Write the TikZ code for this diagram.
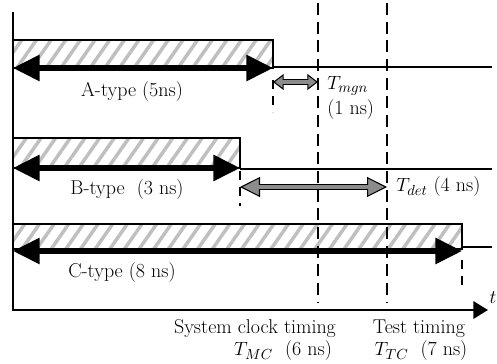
\documentclass[tikz,border=0pt]{standalone}
\usetikzlibrary{arrows.meta, patterns.meta}
\tikzset{
  hatchbar/.style={
    draw, line width=1.4pt,
    pattern={Lines[angle=55, distance=9pt, line width=2.6pt]}, pattern color=black!25
  },
  durarr/.style={
    line width=3.8pt,
    {Triangle[length=20pt, width=19pt]}-{Triangle[length=20pt, width=19pt]}
  },
  % grey double arrows: black outline first, grey shaft on top
  gapout/.style={
    line width=#1,
    {Triangle[length=8pt, width=12pt, fill=black!45, line width=0.8pt]}-{Triangle[length=8pt, width=12pt, fill=black!45, line width=0.8pt]}
  },
  gapin/.style={black!45, line width=#1, shorten <=7pt, shorten >=7pt},
  detout/.style={
    line width=#1,
    {Triangle[length=15pt, width=15pt, fill=black!45, line width=0.8pt]}-{Triangle[length=15pt, width=15pt, fill=black!45, line width=0.8pt]}
  },
  detin/.style={black!45, line width=#1, shorten <=13pt, shorten >=13pt},
  guide/.style={dash pattern=on 9pt off 5pt, line width=1.8pt},
  shortguide/.style={dash pattern=on 7pt off 5pt, line width=1.6pt},
  level/.style={line width=1.4pt},
  lbl/.style={font=\fontsize{15}{19}\selectfont, inner sep=0pt}
}

\begin{document}
\begin{tikzpicture}[x=0.75pt, y=-0.75pt]
  \useasboundingbox (0,0) rectangle (497,364);

  % time axis
  \coordinate (top) at (13,12);
  \coordinate (orig) at (13,310);
  \coordinate (tend) at (488,310);
  \draw[line width=1.8pt, -{Triangle[length=11pt, width=13pt]}] (top) -- (orig) -- (tend);
  \node[lbl] (tlab) at (493,298) {$t$};

  % A-type
  \coordinate (a0) at (13,68);
  \coordinate (a1) at (273,68);
  \coordinate (aend) at (492,67);
  \draw[hatchbar] (13,40) rectangle (a1);
  \draw[level] (273,67) -- (aend);
  \draw[durarr] (a0) -- (a1);
  \node[lbl] (alab) at (132,92) {A-type (5ns)};

  % B-type
  \coordinate (b0) at (13,168);
  \coordinate (b1) at (240,168);
  \coordinate (bend) at (492,169);
  \draw[hatchbar] (13,138) rectangle (b1);
  \draw[level] (240,169) -- (bend);
  \draw[durarr] (b0) -- (b1);
  \node[lbl] (blab) at (127,190) {B-type\ \ (3 ns)};

  % C-type
  \coordinate (c0) at (13,251);
  \coordinate (c1) at (462,251);
  \coordinate (cend) at (492,247);
  \draw[hatchbar] (13,224) rectangle (462,249);
  \draw[level] (462,247) -- (cend);
  \draw[durarr] (c0) -- (c1);
  \node[lbl] (clab) at (122,273) {C-type (8 ns)};

  % timing guides
  \coordinate (mc0) at (318,3);
  \coordinate (mc1) at (318,302);
  \coordinate (tc0) at (387,3);
  \coordinate (tc1) at (387,302);
  \draw[guide] (mc0) -- (mc1);
  \draw[guide] (tc0) -- (tc1);
  \draw[shortguide] (273,80) -- (273,112);
  \draw[shortguide] (240,171) -- (240,206);
  \draw[shortguide] (462,260) -- (462,287);

  % margins
  \coordinate (m0) at (273,82);
  \coordinate (m1) at (318,82);
  \draw[gapout=4.5pt] (m0) -- (m1);
  \draw[gapin=2.6pt] (m0) -- (m1);
  \node[lbl, anchor=north west, align=left] (mgn) at (327,76) {$T_{mgn}$\\(1 ns)};

  \coordinate (d0) at (240,187);
  \coordinate (d1) at (387,187);
  \draw[detout=5pt] (d0) -- (d1);
  \draw[detin=3pt] (d0) -- (d1);
  \node[lbl, anchor=west] (det) at (396,187) {$T_{det}$ (4 ns)};

  % bottom captions
  \node[lbl] (mclab) at (255,329) {System clock timing};
  \node[lbl] (mcval) at (283,351) {$T_{MC}$\ \ (6 ns)};
  \node[lbl] (tclab) at (419,329) {Test timing};
  \node[lbl] (tcval) at (421,351) {$T_{TC}$\ \ (7 ns)};
\end{tikzpicture}
\end{document}
